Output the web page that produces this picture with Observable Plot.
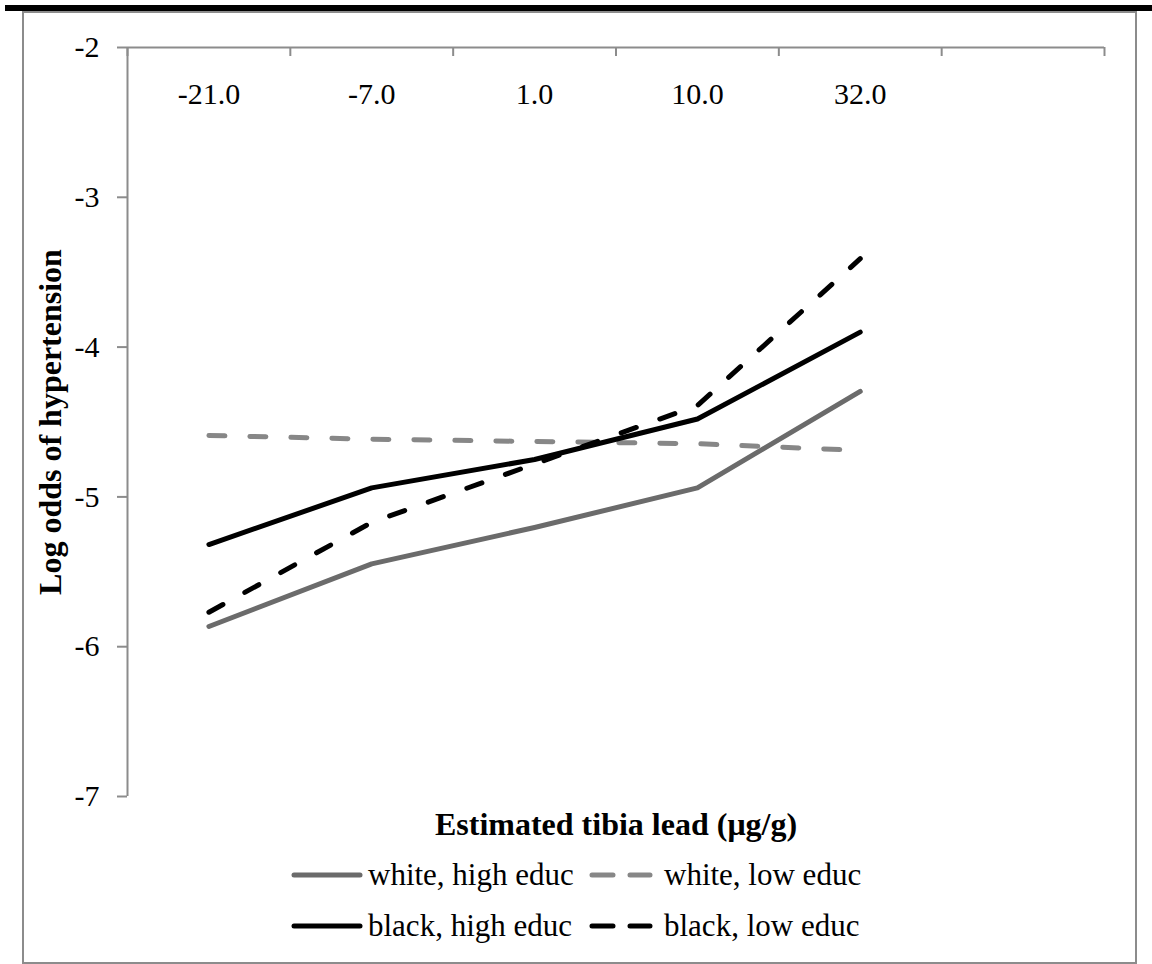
<!DOCTYPE html>
<html>
<head>
<meta charset="utf-8">
<script src="https://cdn.jsdelivr.net/npm/d3@7"></script>
<script src="https://cdn.jsdelivr.net/npm/@observablehq/plot@0.6"></script>
<style>
  html, body { margin: 0; padding: 0; background: #fff; }
  #page { position: relative; width: 1152px; height: 964px; overflow: hidden; font-family: "Liberation Serif", "Times New Roman", serif; }
  #topbar { position: absolute; left: 5px; top: 5px; width: 1147px; height: 6px; background: #000; }
  #frame { position: absolute; left: 22px; top: 11px; width: 1111px; height: 949px; border: 2px solid #8c8c8c; }
  #chart { position: absolute; left: 0; top: 0; }
  .leg { position: absolute; height: 36px; line-height: 36px; font-size: 31px; color: #000; white-space: nowrap; }
  .sw { position: absolute; }
</style>
</head>
<body>
<div id="page">
  <div id="topbar"></div>
  <div id="frame"></div>
  <div id="chart"></div>
  <div id="legend"></div>
</div>
<script>
// Category labels along the top axis (tibia lead, µg/g); a sixth empty slot follows
const categories = ["-21.0", "-7.0", "1.0", "10.0", "32.0"];
const slotCount = 6;

// Predicted log odds of hypertension for each group
const whiteHigh = [-5.865, -5.447, -5.204, -4.94, -4.296];
const whiteLow  = [-4.59, -4.615, -4.63, -4.645, -4.69];
const blackHigh = [-5.318, -4.94, -4.75, -4.48, -3.90];
const blackLow  = [-5.77, -5.17, -4.78, -4.39, -3.41];

const yTicks = [-7, -6, -5, -4, -3, -2];

const seriesNames = ["white, high educ", "white, low educ", "black, high educ", "black, low educ"];
const seriesValues = [whiteHigh, whiteLow, blackHigh, blackLow];
const seriesColors = ["#6b6b6b", "#878787", "#000000", "#000000"];
const seriesDashed = [false, true, false, true];

const axisGray = "#8c8c8c";
const dash = "16,25";

// Long table: one row per series and category slot (slot centre = index + 0.5)
const rows = seriesNames.flatMap((name, s) =>
  seriesValues[s].map((v, i) => ({series: name, slot: i + 0.5, value: v}))
);

const lineMarks = seriesNames.map((name, s) =>
  Plot.line(rows.filter(r => r.series === name), {
    x: "slot", y: "value",
    stroke: seriesColors[s], strokeWidth: 5,
    strokeLinecap: "round", strokeLinejoin: "round",
    strokeDasharray: seriesDashed[s] ? dash : null
  })
);

const chart = Plot.plot({
  width: 1152,
  height: 850,
  marginLeft: 127,
  marginRight: 48,
  marginTop: 47,
  marginBottom: 54,
  style: {fontFamily: "Liberation Serif, Times New Roman, serif", fontSize: "30px", color: "#000", background: "transparent"},
  x: {type: "linear", domain: [0, slotCount], axis: null},
  y: {type: "linear", domain: [-7, -2], axis: null},
  marks: [
    // axis lines
    Plot.ruleY([-2], {stroke: axisGray, strokeWidth: 2}),
    Plot.ruleX([0], {stroke: axisGray, strokeWidth: 2}),
    // slot-boundary ticks hanging below the top axis
    Plot.axisX(d3.range(0, slotCount + 1), {
      anchor: "bottom", frameAnchor: "top", tickSize: 9, tickFormat: () => "",
      label: null, stroke: axisGray, strokeWidth: 2
    }),
    // category labels centred in their slots
    Plot.text(categories, {
      x: (d, i) => i + 0.5, frameAnchor: "top", dy: 47,
      text: d => d, fontSize: 30, lineAnchor: "middle", fill: "#000"
    }),
    // left axis
    Plot.axisY(yTicks, {
      anchor: "left", tickSize: 10, tickPadding: 18, label: null,
      tickFormat: d => String(d), stroke: axisGray, strokeWidth: 2,
      fontSize: 30, fill: "#000"
    }),
    // axis titles
    Plot.text(["Log odds of hypertension"], {
      frameAnchor: "left", dx: -77, rotate: -90, text: d => d,
      textAnchor: "middle", lineAnchor: "middle",
      fontWeight: "bold", fontSize: 32, fill: "#000"
    }),
    Plot.text(["Estimated tibia lead (μg/g)"], {
      frameAnchor: "bottom", dy: 28, text: d => d,
      textAnchor: "middle", lineAnchor: "middle",
      fontWeight: "bold", fontSize: 32, fill: "#000"
    }),
    ...lineMarks
  ]
});
document.getElementById("chart").appendChild(chart);

// Legend: two rows, two entries each
const legend = document.getElementById("legend");
const legendRows = [[0, 1], [2, 3]];
const rowCenters = [875, 926];
const colSwatch = [[294, 360], [592, 650]];
const colText = [368, 664];
legendRows.forEach((row, r) => {
  row.forEach((s, c) => {
    const [x0, x1] = colSwatch[c];
    const w = x1 - x0 + 8;
    const sw = document.createElementNS("http://www.w3.org/2000/svg", "svg");
    sw.setAttribute("class", "sw");
    sw.setAttribute("width", w);
    sw.setAttribute("height", 10);
    sw.style.left = (x0 - 4) + "px";
    sw.style.top = (rowCenters[r] - 5) + "px";
    const ln = document.createElementNS("http://www.w3.org/2000/svg", "line");
    ln.setAttribute("x1", 4); ln.setAttribute("x2", w - 4);
    ln.setAttribute("y1", 5); ln.setAttribute("y2", 5);
    ln.setAttribute("stroke", seriesColors[s]);
    ln.setAttribute("stroke-width", 5);
    ln.setAttribute("stroke-linecap", "round");
    if (seriesDashed[s]) ln.setAttribute("stroke-dasharray", "21,17");
    sw.appendChild(ln);
    legend.appendChild(sw);
    const t = document.createElement("div");
    t.className = "leg";
    t.textContent = seriesNames[s];
    t.style.left = colText[c] + "px";
    t.style.top = (rowCenters[r] - 18) + "px";
    legend.appendChild(t);
  });
});
</script>
</body>
</html>
